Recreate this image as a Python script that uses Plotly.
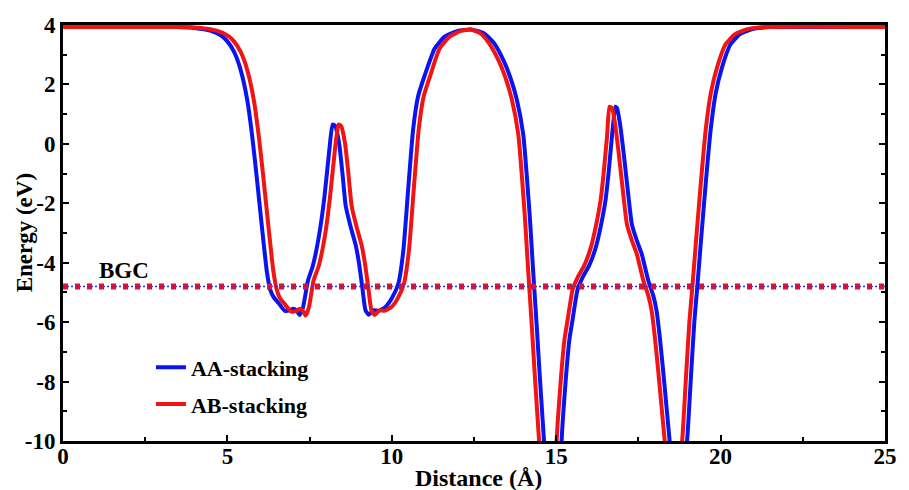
import plotly.graph_objects as go

# ---- data ----
aa_x = [0, 2, 3.5, 4.0, 4.5, 4.8, 5.0, 5.2, 5.4, 5.6, 5.75, 5.9, 6.05, 6.2, 6.3, 6.4, 6.55, 6.75,
        6.9, 7.0, 7.1, 7.2, 7.3, 7.45, 7.6, 7.8, 7.95, 8.1, 8.2, 8.28, 8.4, 8.5, 8.6, 8.75, 8.9,
        9.0, 9.1, 9.2, 9.3, 9.45, 9.6, 9.8, 10.0, 10.2, 10.35, 10.5, 10.65, 10.8, 11.0, 11.3,
        11.6, 12.0, 12.4, 12.8, 13.1, 13.4, 13.6, 13.8, 14.0, 14.1, 14.2, 14.3, 14.4, 14.5,
        14.6, 14.7, 14.9, 15.1, 15.2, 15.3, 15.4, 15.5, 15.65, 15.8, 16.0, 16.2, 16.35, 16.5,
        16.6, 16.7, 16.8, 16.85, 16.95, 17.05, 17.2, 17.3, 17.45, 17.6, 17.8, 17.95, 18.05,
        18.15, 18.25, 18.35, 18.45, 18.55, 18.7, 18.9, 19.0, 19.1, 19.2, 19.3, 19.4, 19.55,
        19.7, 19.85, 20.05, 20.3, 20.6, 21.0, 21.5, 23, 25]
aa_y = [3.93, 3.93, 3.93, 3.9, 3.8, 3.65, 3.45, 3.1, 2.5, 1.5, 0.3, -1.2, -2.8, -4.3, -4.9, -5.15,
        -5.35, -5.62, -5.6, -5.55, -5.6, -5.76, -5.5, -4.6, -4.1, -3.0, -1.8, -0.2, 0.65, 0.6,
        0.0, -1.0, -2.1, -2.8, -3.4, -4.0, -4.8, -5.6, -5.75, -5.6, -5.62, -5.5, -5.2, -4.7,
        -3.6, -1.5, 0.5, 1.6, 2.3, 3.2, 3.6, 3.8, 3.85, 3.72, 3.4, 2.8, 2.25, 1.5, 0.3, -1.0,
        -2.5, -4.3, -6.0, -7.8, -9.5, -11, -12, -11, -9.3, -7.8, -6.6, -5.9, -4.9, -4.5, -4.1,
        -3.5, -2.8, -1.9, -0.9, 0.3, 1.25, 1.2, 0.6, -0.3, -1.8, -2.7, -3.25, -3.7, -4.6, -5.1,
        -5.6, -6.5, -7.6, -8.8, -10, -11.2, -12, -11, -9.7, -7.8, -6.0, -4.7, -3.3, -1.3, 0.5,
        1.7, 2.6, 3.35, 3.7, 3.87, 3.93, 3.93, 3.93]

ab_x = [0, 3.5, 4.2, 4.7, 5.0, 5.2, 5.4, 5.6, 5.8, 5.95, 6.1, 6.25, 6.4, 6.5, 6.6, 6.75, 6.95,
        7.1, 7.2, 7.3, 7.38, 7.48, 7.62, 7.78, 7.98, 8.12, 8.27, 8.38, 8.46, 8.58, 8.68, 8.78,
        8.93, 9.08, 9.18, 9.28, 9.38, 9.48, 9.62, 9.78, 9.98, 10.18, 10.37, 10.52, 10.67,
        10.82, 10.97, 11.17, 11.45, 11.75, 12.1, 12.4, 12.7, 12.95, 13.25, 13.45, 13.65,
        13.85, 13.95, 14.05, 14.15, 14.25, 14.35, 14.45, 14.55, 14.75, 14.95, 15.05, 15.15,
        15.25, 15.35, 15.5, 15.65, 15.85, 16.05, 16.2, 16.35, 16.45, 16.55, 16.62, 16.7, 16.8,
        16.9, 17.05, 17.15, 17.3, 17.45, 17.65, 17.8, 17.9, 18.0, 18.1, 18.2, 18.3, 18.4,
        18.55, 18.75, 18.85, 18.95, 19.05, 19.15, 19.25, 19.4, 19.55, 19.7, 19.9, 20.15,
        20.45, 20.85, 21.4, 25]
ab_y = [3.93, 3.93, 3.9, 3.8, 3.65, 3.45, 3.1, 2.5, 1.5, 0.3, -1.2, -2.8, -4.3, -4.9, -5.2, -5.4,
        -5.65, -5.62, -5.55, -5.62, -5.78, -5.5, -4.6, -4.1, -3.0, -1.8, -0.2, 0.65, 0.6, 0.0,
        -1.0, -2.1, -2.8, -3.4, -4.0, -4.8, -5.6, -5.76, -5.6, -5.62, -5.5, -5.2, -4.7, -3.6,
        -1.5, 0.5, 1.6, 2.3, 3.2, 3.6, 3.8, 3.85, 3.72, 3.4, 2.8, 2.25, 1.5, 0.3, -1.0, -2.5,
        -4.3, -6.0, -7.8, -9.5, -11, -12, -11, -9.3, -7.8, -6.6, -5.9, -4.9, -4.5, -4.1, -3.5,
        -2.8, -1.9, -0.9, 0.3, 1.25, 1.2, 0.6, -0.3, -1.8, -2.7, -3.25, -3.7, -4.6, -5.1, -5.6,
        -6.5, -7.6, -8.8, -10, -11.2, -12, -11, -9.7, -7.8, -6.0, -4.7, -3.3, -1.3, 0.5, 1.7,
        2.6, 3.35, 3.7, 3.87, 3.93, 3.93]

bgc_level = -4.8
x_range = [0, 25]
y_range = [-10, 4]
x_ticks = [0, 5, 10, 15, 20, 25]
y_ticks = [4, 2, 0, -2, -4, -6, -8, -10]

FONT = "Times New Roman, Liberation Serif, serif"

fig = go.Figure()
fig.add_trace(go.Scatter(x=aa_x, y=aa_y, mode="lines", name="<b>AA-stacking</b>",
                         legendgroup="aa",
                         line=dict(color="#0A14F0", width=4, shape="spline", smoothing=0.5)))
fig.add_trace(go.Scatter(x=ab_x, y=ab_y, mode="lines", name="<b>AB-stacking</b>",
                         legendgroup="ab",
                         line=dict(color="#F01414", width=4, shape="spline", smoothing=0.5)))
# BGC reference line: thin blue dotted line with red dots on top
fig.add_trace(go.Scatter(x=x_range, y=[bgc_level, bgc_level], mode="lines", showlegend=False,
                         line=dict(color="#3434C8", width=1.5, dash="2px,2px")))
fig.add_trace(go.Scatter(x=x_range, y=[bgc_level, bgc_level], mode="lines", showlegend=False,
                         line=dict(color="#D0143C", width=6, dash="5px,7px")))

fig.add_annotation(x=1.86, y=-4.27, text="<b>BGC</b>", showarrow=False,
                   font=dict(family=FONT, size=23, color="black"))

# axis titles placed as paper-referenced annotations
fig.add_annotation(x=0.506, y=-0.089, xref="paper", yref="paper", text="<b>Distance (Å)</b>",
                   showarrow=False, xanchor="center", yanchor="middle",
                   font=dict(family=FONT, size=24, color="black"))
fig.add_annotation(x=-0.047, y=0.5, xref="paper", yref="paper", text="<b>Energy (eV)</b>",
                   showarrow=False, xanchor="center", yanchor="middle", textangle=-90,
                   font=dict(family=FONT, size=23, color="black"))

axis_common = dict(showline=True, linecolor="black", linewidth=3, ticks="inside",
                   tickcolor="black", tickwidth=2, ticklen=6, showgrid=False, zeroline=False,
                   tickfont=dict(family=FONT, size=23, color="black"))

fig.update_xaxes(range=x_range, tickvals=x_ticks, ticktext=[f"<b>{t}</b>" for t in x_ticks],
                 mirror=True, ticklabelstandoff=-8,
                 minor=dict(ticks="inside", dtick=2.5, ticklen=4, tickwidth=2, tickcolor="black"),
                 **axis_common)
fig.update_yaxes(range=y_range, tickvals=y_ticks, ticktext=[f"<b>{t}</b>" for t in y_ticks],
                 mirror="ticks",
                 minor=dict(ticks="inside", dtick=1, ticklen=4, tickwidth=2, tickcolor="black"),
                 **axis_common)

fig.update_layout(
    width=909, height=490,
    margin=dict(l=63, r=14, t=25, b=49),
    paper_bgcolor="white", plot_bgcolor="white",
    font=dict(family=FONT),
    showlegend=True,
    legend=dict(x=0.107, y=0.227, xanchor="left", yanchor="top", bgcolor="rgba(0,0,0,0)",
                font=dict(family=FONT, size=22, color="black"), tracegroupgap=5,
                traceorder="grouped"),
)

fig.write_html("out.html")
